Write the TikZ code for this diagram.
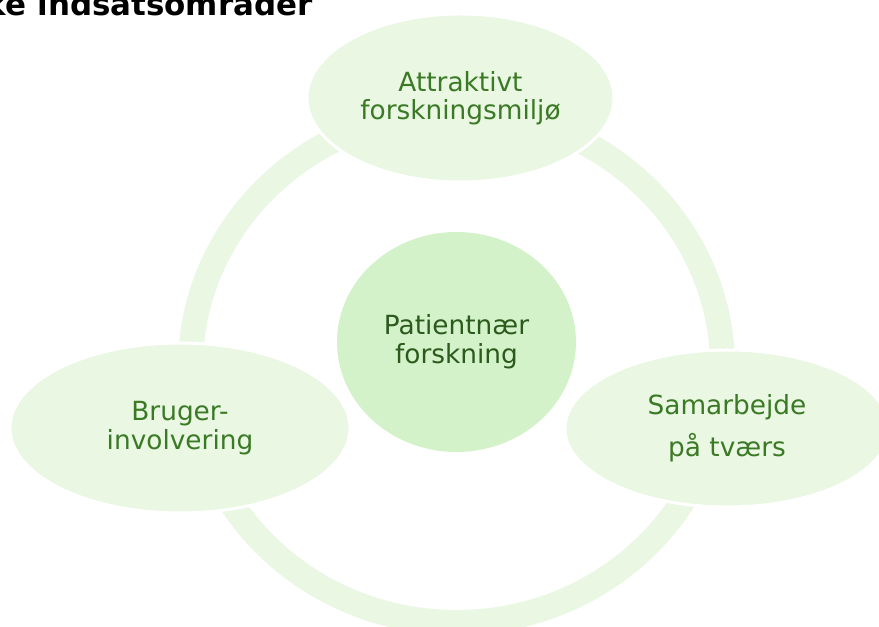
\documentclass[tikz,border=0pt]{standalone}
\usepackage{fontspec}
\setmainfont{DejaVu Sans}
\usetikzlibrary{shapes.geometric}
\definecolor{ringgreen}{HTML}{E9F7E3}
\definecolor{coregreen}{HTML}{D3F2C9}
\definecolor{areatext}{HTML}{3B7A25}
\definecolor{coretext}{HTML}{2B5A1C}
\begin{document}
\begin{tikzpicture}[
  area/.style={ellipse, fill=ringgreen, draw=white, line width=0.06cm, text=areatext, align=center, inner sep=0pt, font=\fontsize{15}{16.2}\selectfont},
  core/.style={ellipse, fill=coregreen, draw=none, text=coretext, align=center, inner sep=0pt, font=\fontsize{15}{16.5}\selectfont}]
\clip (-9.13,-5.2) rectangle (8.45,7.34);
% ring behind the areas
\coordinate (hub) at (0,0);
\draw[ringgreen, line width=0.5cm] (hub) ellipse [x radius=5.32, y radius=5.11];
\node[area, minimum width=6.14cm, minimum height=3.36cm] (miljo) at (0.08,5.38) {Attraktivt\\forskningsmiljø};
\node[area, minimum width=6.8cm, minimum height=3.4cm] (bruger) at (-5.53,-1.22) {Bruger-\\involvering};
\node[area, minimum width=6.48cm, minimum height=3.14cm] (samarb) at (5.41,-1.23) {Samarbejde\\[0.24cm]på tværs};
\node[core, minimum width=4.78cm, minimum height=4.4cm] (patient) at (0,0.5) {Patientnær\\forskning};
% title, cut by the top edge
\node[anchor=base east, inner sep=0pt, font=\fontsize{17.6}{18}\selectfont\bfseries] (titel) at (-2.87,7.03) {ke indsatsområder};
\end{tikzpicture}
\end{document}
